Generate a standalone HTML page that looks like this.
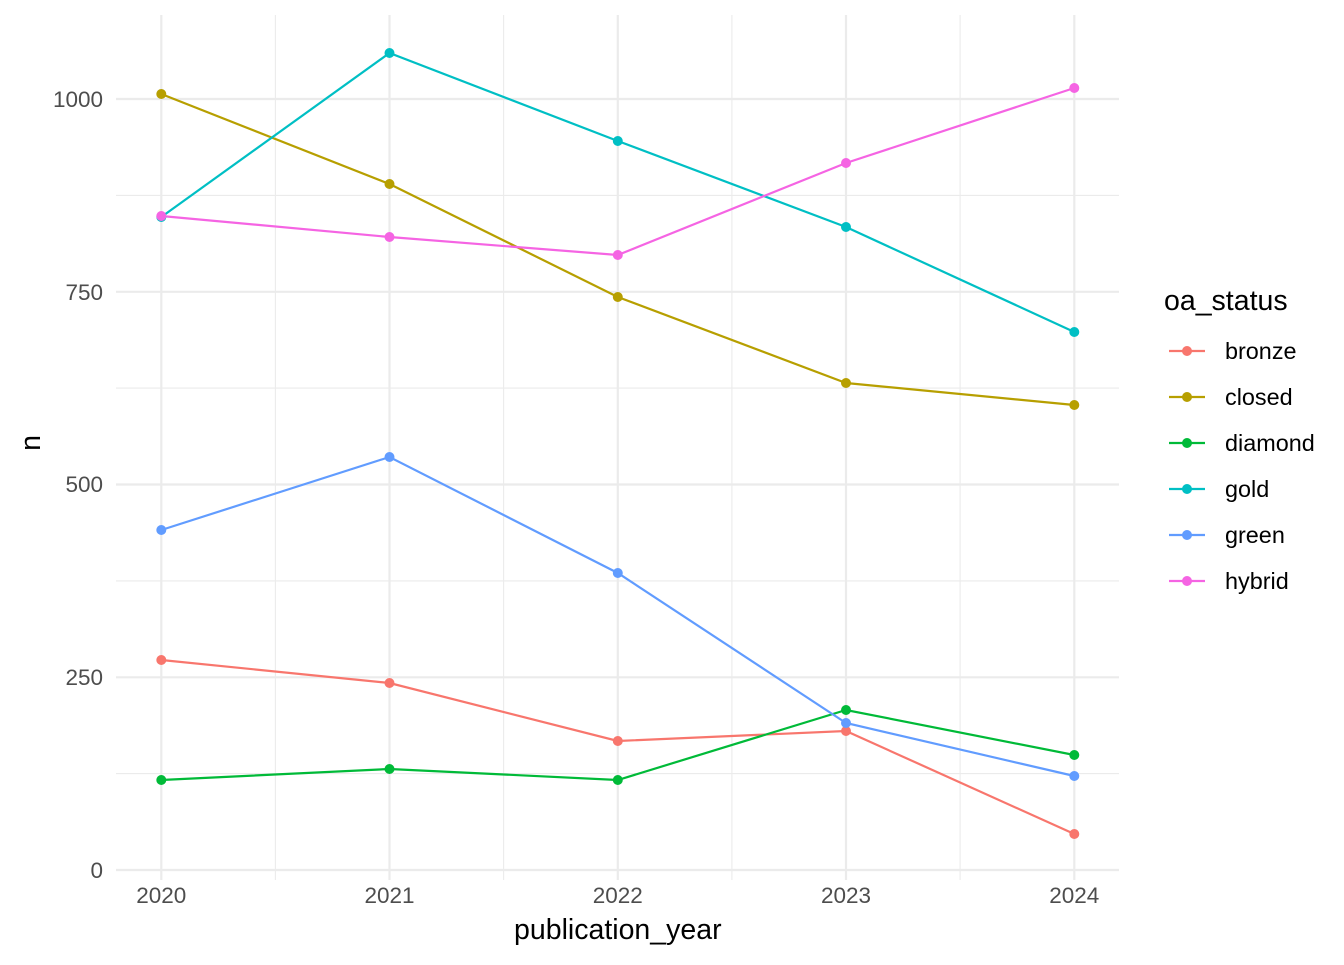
<!DOCTYPE html>
<html><head><meta charset="utf-8"><style>body{margin:0;background:#fff}</style></head><body>
<svg width="1344" height="960" xmlns="http://www.w3.org/2000/svg" font-family="Liberation Sans, sans-serif">
<rect width="1344" height="960" fill="#fff"/>
<g stroke="#ebebeb" stroke-width="1.1">
<line x1="116" x2="1119" y1="773.6" y2="773.6"/><line x1="116" x2="1119" y1="580.9" y2="580.9"/>
<line x1="116" x2="1119" y1="388.1" y2="388.1"/><line x1="116" x2="1119" y1="195.4" y2="195.4"/>
<line x1="275.4" x2="275.4" y1="15" y2="880"/><line x1="503.6" x2="503.6" y1="15" y2="880"/>
<line x1="731.9" x2="731.9" y1="15" y2="880"/><line x1="960.1" x2="960.1" y1="15" y2="880"/>
</g>
<g stroke="#ebebeb" stroke-width="2.2">
<line x1="116" x2="1119" y1="870" y2="870"/><line x1="116" x2="1119" y1="677.3" y2="677.3"/>
<line x1="116" x2="1119" y1="484.5" y2="484.5"/><line x1="116" x2="1119" y1="291.8" y2="291.8"/>
<line x1="116" x2="1119" y1="99" y2="99"/>
<line x1="161.3" x2="161.3" y1="15" y2="880"/><line x1="389.5" x2="389.5" y1="15" y2="880"/>
<line x1="617.8" x2="617.8" y1="15" y2="880"/><line x1="846" x2="846" y1="15" y2="880"/>
<line x1="1074.3" x2="1074.3" y1="15" y2="880"/>
</g>
<g fill="none" stroke-width="2.2">
<polyline stroke="#F8766D" points="161.3,660 389.5,683 617.8,741 846,731 1074.3,834"/>
<polyline stroke="#B79F00" points="161.3,94 389.5,184 617.8,297 846,383 1074.3,405"/>
<polyline stroke="#00BA38" points="161.3,780 389.5,769 617.8,780 846,710 1074.3,755"/>
<polyline stroke="#00BFC4" points="161.3,217 389.5,53 617.8,141 846,227 1074.3,332"/>
<polyline stroke="#619CFF" points="161.3,530 389.5,457 617.8,573 846,723 1074.3,776"/>
<polyline stroke="#F564E3" points="161.3,216 389.5,237 617.8,255 846,163 1074.3,88"/>
</g>
<g fill="#F8766D"><circle cx="161.3" cy="660" r="5"/><circle cx="389.5" cy="683" r="5"/><circle cx="617.8" cy="741" r="5"/><circle cx="846" cy="731" r="5"/><circle cx="1074.3" cy="834" r="5"/></g>
<g fill="#B79F00"><circle cx="161.3" cy="94" r="5"/><circle cx="389.5" cy="184" r="5"/><circle cx="617.8" cy="297" r="5"/><circle cx="846" cy="383" r="5"/><circle cx="1074.3" cy="405" r="5"/></g>
<g fill="#00BA38"><circle cx="161.3" cy="780" r="5"/><circle cx="389.5" cy="769" r="5"/><circle cx="617.8" cy="780" r="5"/><circle cx="846" cy="710" r="5"/><circle cx="1074.3" cy="755" r="5"/></g>
<g fill="#00BFC4"><circle cx="161.3" cy="217" r="5"/><circle cx="389.5" cy="53" r="5"/><circle cx="617.8" cy="141" r="5"/><circle cx="846" cy="227" r="5"/><circle cx="1074.3" cy="332" r="5"/></g>
<g fill="#619CFF"><circle cx="161.3" cy="530" r="5"/><circle cx="389.5" cy="457" r="5"/><circle cx="617.8" cy="573" r="5"/><circle cx="846" cy="723" r="5"/><circle cx="1074.3" cy="776" r="5"/></g>
<g fill="#F564E3"><circle cx="161.3" cy="216" r="5"/><circle cx="389.5" cy="237" r="5"/><circle cx="617.8" cy="255" r="5"/><circle cx="846" cy="163" r="5"/><circle cx="1074.3" cy="88" r="5"/></g>
<g fill="#4d4d4d" font-size="22.5" text-anchor="end">
<text x="103" y="878">0</text><text x="103" y="685">250</text><text x="103" y="492">500</text><text x="103" y="300">750</text><text x="103" y="107">1000</text>
</g>
<g fill="#4d4d4d" font-size="22.5" text-anchor="middle">
<text x="161.3" y="903">2020</text><text x="389.5" y="903">2021</text><text x="617.8" y="903">2022</text><text x="846" y="903">2023</text><text x="1074.3" y="903">2024</text>
</g>
<text x="617.8" y="939" font-size="28.5" text-anchor="middle">publication_year</text>
<text transform="translate(40,443) rotate(-90)" font-size="28.5" text-anchor="middle">n</text>
<text x="1164" y="310" font-size="28.5">oa_status</text>
<g stroke-width="2.2">
<line x1="1169" x2="1205" y1="351" y2="351" stroke="#F8766D"/><circle cx="1187" cy="351" r="5" fill="#F8766D"/>
<line x1="1169" x2="1205" y1="397" y2="397" stroke="#B79F00"/><circle cx="1187" cy="397" r="5" fill="#B79F00"/>
<line x1="1169" x2="1205" y1="443" y2="443" stroke="#00BA38"/><circle cx="1187" cy="443" r="5" fill="#00BA38"/>
<line x1="1169" x2="1205" y1="489" y2="489" stroke="#00BFC4"/><circle cx="1187" cy="489" r="5" fill="#00BFC4"/>
<line x1="1169" x2="1205" y1="535" y2="535" stroke="#619CFF"/><circle cx="1187" cy="535" r="5" fill="#619CFF"/>
<line x1="1169" x2="1205" y1="581" y2="581" stroke="#F564E3"/><circle cx="1187" cy="581" r="5" fill="#F564E3"/>
</g>
<g font-size="23.4" fill="#000">
<text x="1225" y="359">bronze</text><text x="1225" y="405">closed</text><text x="1225" y="451">diamond</text>
<text x="1225" y="497">gold</text><text x="1225" y="543">green</text><text x="1225" y="589">hybrid</text>
</g>
</svg>
</body></html>
